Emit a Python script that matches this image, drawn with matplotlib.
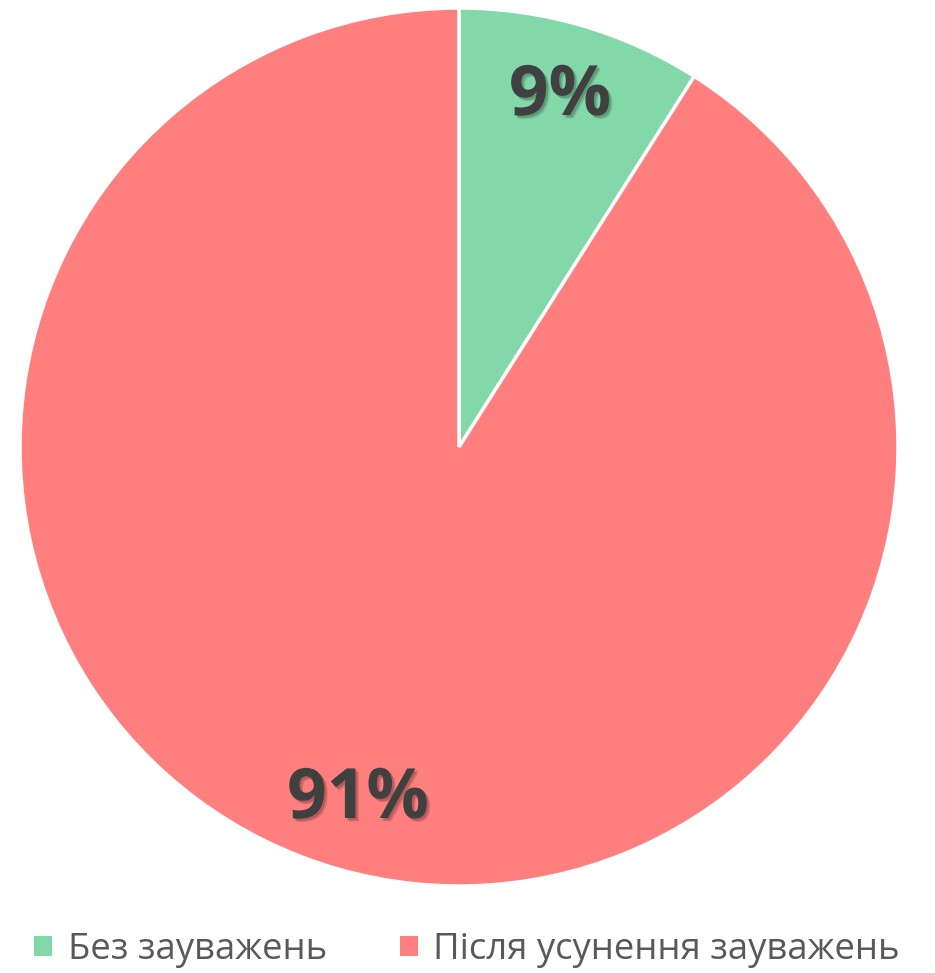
import matplotlib
matplotlib.use("Agg")
import matplotlib.pyplot as plt
import matplotlib.patheffects as pe
from matplotlib.patches import Patch

categories = ["Без зауважень", "Після усунення зауважень"]
values = [9, 91]
labels = ["9%", "91%"]
colors = ["#82D8A8", "#FF7F7F"]

plt.rcParams['font.family'] = ['Open Sans', 'DejaVu Sans']

fig = plt.figure(figsize=(9.35, 9.73), dpi=100)
ax = fig.add_axes([459/935 - 439/935, 1 - (447 + 439)/973, 878/935, 878/973])
wedges, _ = ax.pie(values, colors=colors, startangle=90, counterclock=False,
                   wedgeprops=dict(edgecolor="white", linewidth=2.5))
ax.set_xlim(-1, 1)
ax.set_ylim(-1, 1)
ax.set_aspect('equal')
ax.axis('off')

shadow = [pe.SimplePatchShadow(offset=(2.5, -2.5), shadow_rgbFace='black', alpha=0.12),
          pe.SimplePatchShadow(offset=(1.5, -1.5), shadow_rgbFace='black', alpha=0.18),
          pe.Normal()]
pos = [(560, 97), (358, 800)]
for (px, py), lab in zip(pos, labels):
    fig.text(px/935, 1 - py/973, lab, ha='center', va='center', fontsize=50,
             fontweight='bold', color='#404040', path_effects=shadow)

handles = [Patch(facecolor=c, edgecolor='none') for c in colors]
leg = fig.legend(handles, categories, loc='center', bbox_to_anchor=(467/935, 1 - 950/973),
                 ncol=2, frameon=False, fontsize=26.3, handlelength=0.5, handleheight=0.5,
                 handletextpad=0.42, columnspacing=2.0, labelcolor='#595959', borderpad=0)

fig.savefig("out.png", dpi=100, facecolor='white')
